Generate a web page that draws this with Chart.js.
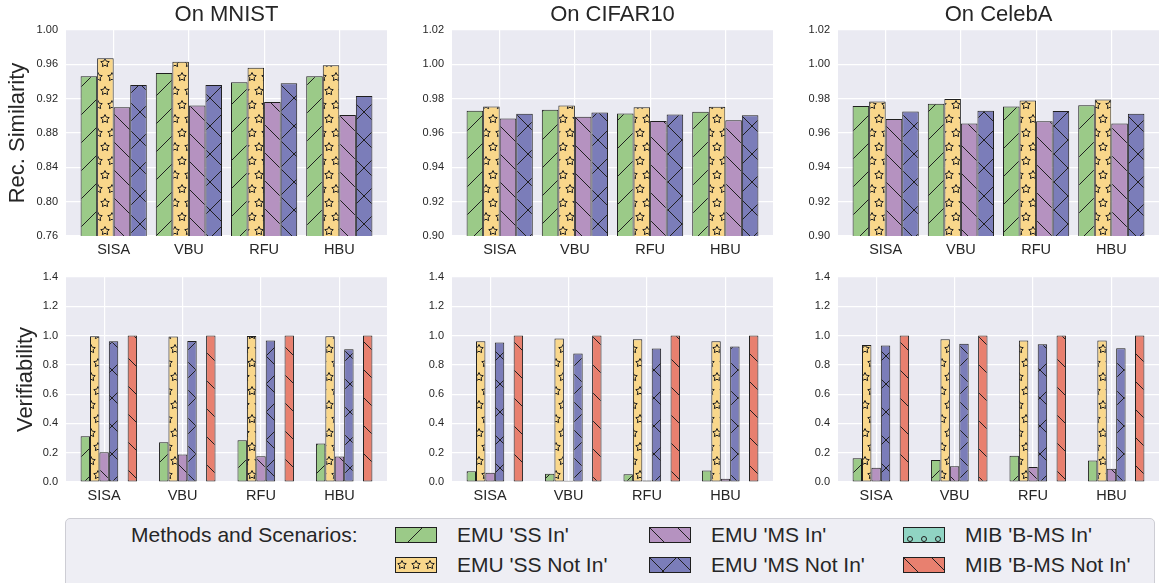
<!DOCTYPE html>
<html>
<head>
<meta charset="utf-8">
<title>Rec. Similarity and Verifiability</title>
<script src="https://cdn.jsdelivr.net/npm/chart.js@4.4.1/dist/chart.umd.min.js"></script>
<style>
  html, body { margin: 0; padding: 0; background: #fff; }
  #page { position: relative; width: 1163px; height: 583px; overflow: hidden;
          font-family: "Liberation Sans", Arial, sans-serif; color: #262626; }
  #page canvas.plot { position: absolute; }
  #legend { position: absolute; left: 65px; top: 518px; width: 1090px; height: 80px;
            background: #eeeef4; border: 1px solid #cdcdd4; border-radius: 5px; box-sizing: border-box; }
  .lg-text { position: absolute; font-size: 21px; line-height: 24px; white-space: nowrap; }
  .lg-patch { position: absolute; }
</style>
</head>
<body>
<div id="page">
  <div id="legend"></div>
</div>
<script>
const methods = ["SISA", "VBU", "RFU", "HBU"];
const scenarios = ["EMU 'SS In'", "EMU 'SS Not In'", "EMU 'MS In'", "EMU 'MS Not In'", "MIB 'B-MS In'", "MIB 'B-MS Not In'"];
const titles = ["On MNIST", "On CIFAR10", "On CelebA"];

// Rec. Similarity: rows are EMU 'SS In', 'SS Not In', 'MS In', 'MS Not In'
const simMnist = [
  [0.946, 0.950, 0.939, 0.946],
  [0.967, 0.963, 0.956, 0.959],
  [0.910, 0.912, 0.916, 0.901],
  [0.936, 0.936, 0.938, 0.923]
];
const simCifar = [
  [0.9730, 0.9735, 0.9714, 0.9724],
  [0.9755, 0.9760, 0.9750, 0.9753],
  [0.9685, 0.9695, 0.9670, 0.9675],
  [0.9712, 0.9720, 0.9708, 0.9703]
];
const simCeleba = [
  [0.9758, 0.9770, 0.9755, 0.9762],
  [0.9784, 0.9798, 0.9790, 0.9795],
  [0.9682, 0.9655, 0.9668, 0.9655],
  [0.9725, 0.9730, 0.9728, 0.9712]
];

// Verifiability: rows follow the six scenarios
const verMnist = [
  [0.313, 0.272, 0.285, 0.263],
  [0.995, 0.993, 0.997, 0.995],
  [0.203, 0.187, 0.176, 0.174],
  [0.961, 0.963, 0.966, 0.906],
  [0, 0, 0, 0],
  [1.0, 1.0, 1.0, 1.0]
];
const verCifar = [
  [0.073, 0.057, 0.053, 0.078],
  [0.961, 0.980, 0.975, 0.961],
  [0.064, 0.009, 0.011, 0.023],
  [0.952, 0.877, 0.911, 0.925],
  [0, 0, 0, 0],
  [1.0, 1.0, 1.0, 1.0]
];
const verCeleba = [
  [0.162, 0.151, 0.180, 0.146],
  [0.935, 0.975, 0.966, 0.966],
  [0.098, 0.107, 0.103, 0.091],
  [0.933, 0.945, 0.941, 0.913],
  [0, 0, 0, 0],
  [1.0, 1.0, 1.0, 1.0]
];

const simTicksMnist = [0.76, 0.80, 0.84, 0.88, 0.92, 0.96, 1.00];
const simTicks = [0.90, 0.92, 0.94, 0.96, 0.98, 1.00, 1.02];
const verTicks = [0, 0.2, 0.4, 0.6, 0.8, 1.0, 1.2, 1.4];

const colors = ["#9bca88", "#f9d78b", "#b592c0", "#7b7db9", "#90d4c3", "#e8806f"];
const hatches = ["/", "*", "\\", "x", "o", "\\"];
const ink = "#262626";
const edge = "#1f1f1f";

Chart.defaults.font.family = "'Liberation Sans', Arial, sans-serif";
Chart.defaults.color = ink;

const page = document.getElementById("page");
const plotLefts = [66, 452, 838];
const plotW = 321;

function starPath(g, cx, cy, r) {
  for (let i = 0; i < 10; i++) {
    const rad = i % 2 === 0 ? r : r * 0.5;
    const a = -Math.PI / 2 + i * Math.PI / 5;
    const x = cx + rad * Math.cos(a), y = cy + rad * Math.sin(a);
    if (i === 0) g.moveTo(x, y); else g.lineTo(x, y);
  }
  g.closePath();
}

// small tile repeated as the bar fill, like matplotlib hatches
function hatchFill(color, hatch) {
  const w = (hatch === "*" || hatch === "o") ? 14 : 28;
  const h = hatch === "*" ? 28 : w;
  const c = document.createElement("canvas");
  c.width = w; c.height = h;
  const g = c.getContext("2d");
  g.fillStyle = color;
  g.fillRect(0, 0, w, h);
  g.strokeStyle = edge;
  g.lineWidth = 1;
  g.beginPath();
  if (hatch === "/" || hatch === "x") {
    for (const k of [-w, 0, w]) { g.moveTo(k, h); g.lineTo(k + w, 0); }
  }
  if (hatch === "\\" || hatch === "x") {
    for (const k of [-w, 0, w]) { g.moveTo(k, 0); g.lineTo(k + w, h); }
  }
  if (hatch === "*") {
    starPath(g, 7, 7, 4.5);
    starPath(g, 0, 21, 4.5);
    starPath(g, 14, 21, 4.5);
  }
  if (hatch === "o") {
    g.moveTo(9.5, 7);
    g.arc(7, 7, 2.5, 0, Math.PI * 2);
  }
  g.stroke();
  return g.createPattern(c, "repeat");
}

const plotBg = {
  id: "plotBg",
  beforeDraw(chart) {
    const { ctx, chartArea: a } = chart;
    ctx.save();
    ctx.fillStyle = "#eaeaf2";
    ctx.fillRect(a.left, a.top, a.width, a.height);
    ctx.restore();
  }
};

function buildPanel(col, row, rows, yTicks) {
  const first = col === 0;
  const isTop = row === 0;
  const n = rows.length;

  // bar width in category units, matplotlib-style margins
  const barW = isTop ? 0.22 : 0.12;
  const half = n * barW / 2;
  const margin = 0.05 * (methods.length - 1 + 2 * half);
  const xMin = -half - margin;
  const xMax = methods.length - 1 + half + margin;
  // bottom row: tick sits on the 3rd bar of each group
  const shift = isTop ? 0 : barW / 2;

  const yW = first ? 66 : 50;
  const padTop = isTop ? 0 : 19;
  const titleH = isTop ? 30 : 0;
  const plotH = isTop ? 206 : 205;
  const axisH = 22;
  const width = yW + plotW + 4;
  const height = padTop + titleH + plotH + axisH;

  const cv = document.createElement("canvas");
  cv.className = "plot";
  cv.width = width;
  cv.height = height;
  cv.style.left = (plotLefts[col] - yW) + "px";
  cv.style.top = (isTop ? 0 : 258) + "px";
  page.appendChild(cv);

  const tickSet = s => { s.ticks = methods.map((m, k) => ({ value: k })); };

  new Chart(cv, {
    type: "bar",
    data: {
      datasets: rows.map((vals, i) => ({
        label: scenarios[i],
        data: vals.map((v, k) => ({ x: k, y: v })),
        backgroundColor: hatchFill(colors[i], hatches[i]),
        borderColor: edge,
        borderWidth: 1,
        borderSkipped: false,
        categoryPercentage: n * barW,
        barPercentage: 1,
        xAxisID: "xb",
        yAxisID: "y"
      }))
    },
    options: {
      responsive: false,
      animation: false,
      devicePixelRatio: 1,
      layout: { padding: { top: padTop, right: 4, bottom: 0, left: 0 } },
      plugins: {
        legend: { display: false },
        tooltip: { enabled: false },
        title: {
          display: isTop,
          text: titles[col],
          fullSize: false,
          color: ink,
          font: { size: 22, weight: "normal" },
          padding: { top: 2, bottom: 1.6 }
        }
      },
      scales: {
        xb: {
          type: "linear", axis: "x", position: "bottom", display: false,
          offset: false, grid: { offset: false },
          min: xMin, max: xMax,
          afterBuildTicks: tickSet
        },
        x: {
          type: "linear", position: "bottom",
          offset: false,
          min: xMin + shift, max: xMax + shift,
          afterBuildTicks: tickSet,
          ticks: { callback: v => methods[v], color: ink, font: { size: 14.5 }, padding: 5, maxRotation: 0, autoSkip: false },
          grid: { offset: false, color: "#ffffff", lineWidth: 1.2, drawTicks: false },
          border: { display: false },
          afterFit: s => { s.height = axisH; }
        },
        y: {
          min: yTicks[0], max: yTicks[yTicks.length - 1],
          afterBuildTicks: s => { s.ticks = yTicks.map(v => ({ value: v })); },
          ticks: { callback: v => v.toFixed(isTop ? 2 : 1), color: ink, font: { size: 11 }, padding: 8 },
          grid: { color: "#ffffff", lineWidth: 1.2, drawTicks: false },
          border: { display: false },
          title: {
            display: first,
            text: isTop ? "Rec. Similarity" : "Verifiability",
            color: ink,
            font: { size: 22 },
            padding: { top: isTop ? 5 : 13, bottom: 0 }
          },
          afterFit: s => { s.width = yW; }
        }
      }
    },
    plugins: [plotBg]
  });
}

buildPanel(0, 0, simMnist, simTicksMnist);
buildPanel(1, 0, simCifar, simTicks);
buildPanel(2, 0, simCeleba, simTicks);
buildPanel(0, 1, verMnist, verTicks);
buildPanel(1, 1, verCifar, verTicks);
buildPanel(2, 1, verCeleba, verTicks);

// legend
const legendCols = [395, 649, 903];
const legendRows = [535, 565];
const patchOffsetY = [0, 1, 0, 0, 5, 0];

function addText(text, left, centerY) {
  const d = document.createElement("div");
  d.className = "lg-text";
  d.textContent = text;
  d.style.left = left + "px";
  d.style.top = (centerY - 12) + "px";
  page.appendChild(d);
}

addText("Methods and Scenarios:", 131, legendRows[0]);

scenarios.forEach((name, i) => {
  const col = Math.floor(i / 2), row = i % 2;
  const pc = document.createElement("canvas");
  pc.className = "lg-patch";
  pc.width = 42; pc.height = 16;
  pc.style.left = legendCols[col] + "px";
  pc.style.top = (legendRows[row] - 8) + "px";
  page.appendChild(pc);
  const g = pc.getContext("2d");
  g.save();
  g.translate(0, patchOffsetY[i]);
  g.fillStyle = hatchFill(colors[i], hatches[i]);
  g.fillRect(0, -patchOffsetY[i], 42, 16);
  g.restore();
  g.strokeStyle = edge;
  g.lineWidth = 1;
  g.strokeRect(0.5, 0.5, 41, 15);
  addText(name, legendCols[col] + 62, legendRows[row]);
});
</script>
</body>
</html>
